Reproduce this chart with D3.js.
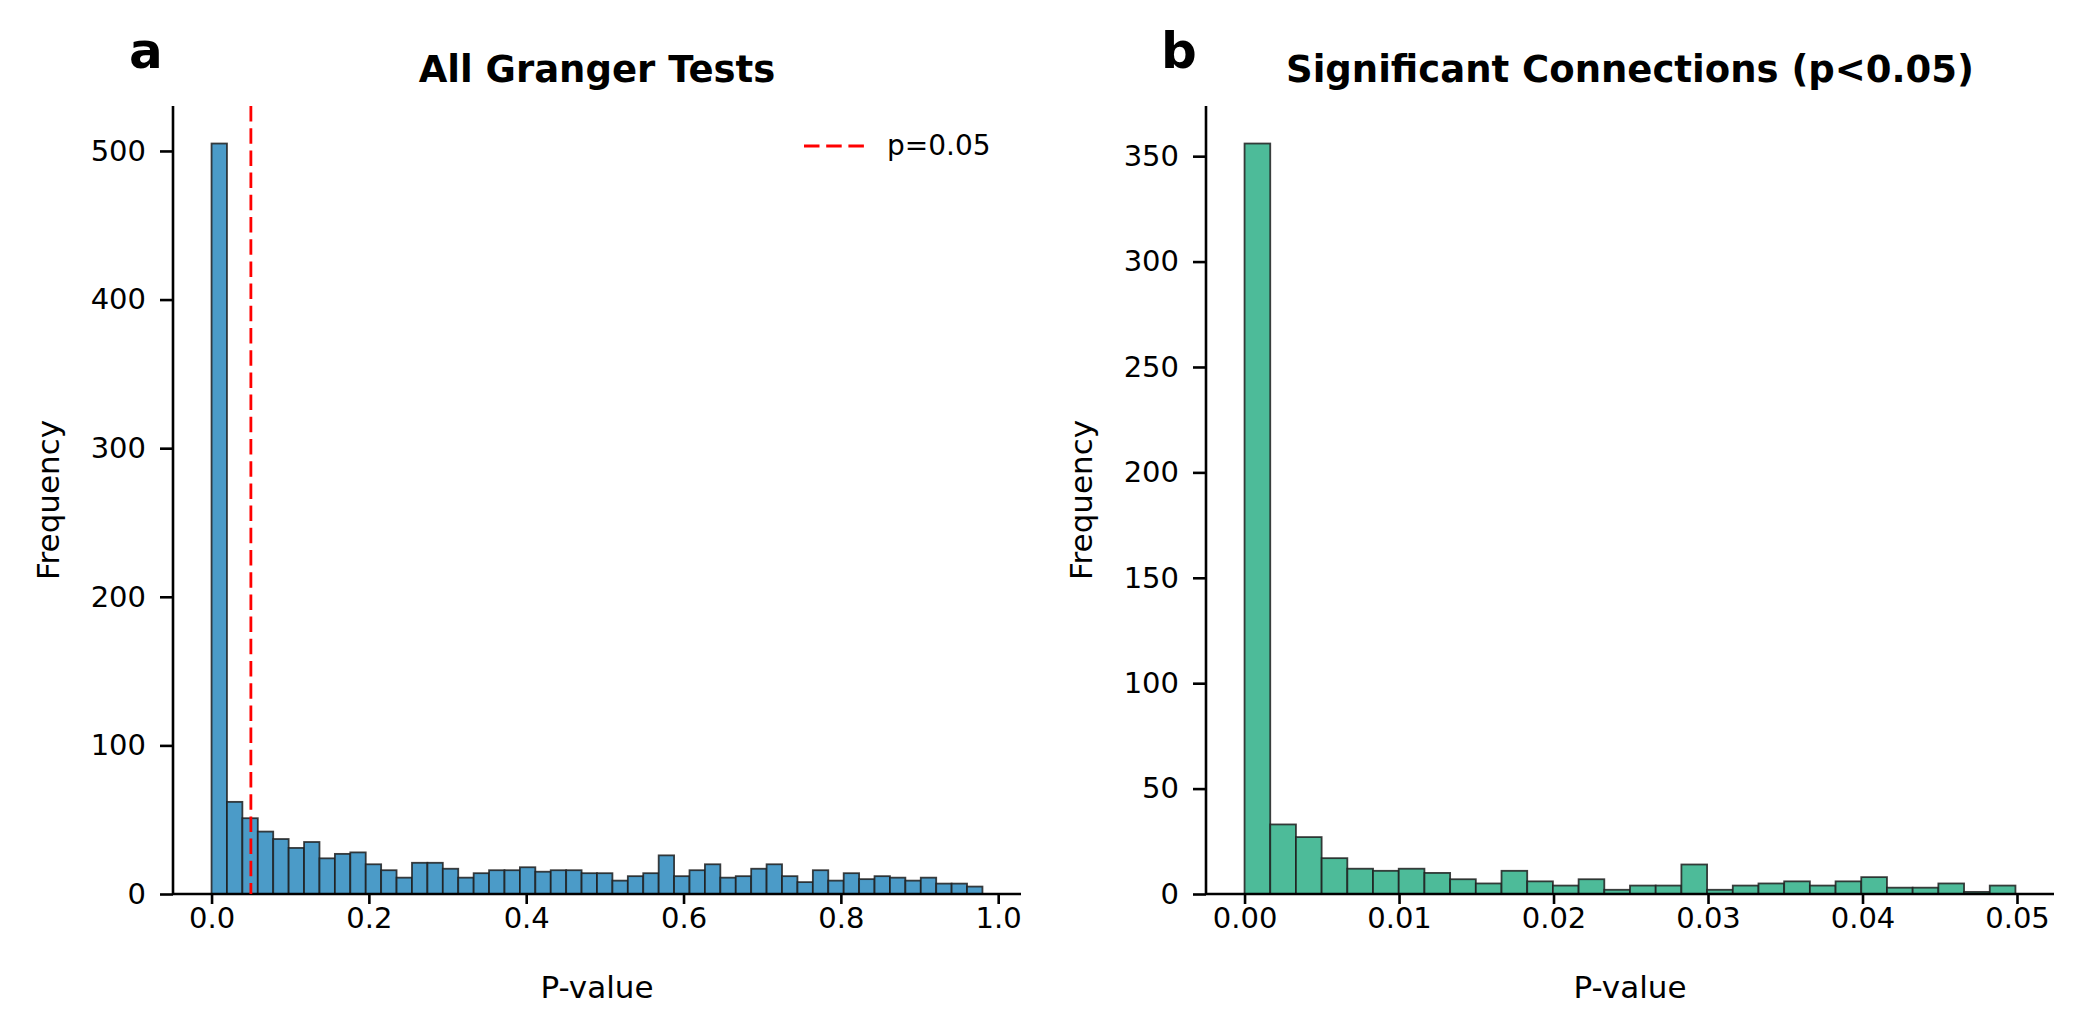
<!DOCTYPE html>
<html>
<head>
<meta charset="utf-8">
<script src="https://cdn.jsdelivr.net/npm/d3@7"></script>
<style>
  body { margin: 0; background: #fff; }
  svg text { font-family: "DejaVu Sans", sans-serif; fill: #000; }
</style>
</head>
<body>
<div id="container"></div>
<script>
// counts per bin
const allCounts = [505, 62, 51, 42, 37, 31, 35, 24, 27, 28, 20, 16, 11, 21, 21, 17, 11, 14, 16, 16,
  18, 15, 16, 16, 14, 14, 9, 12, 14, 26, 12, 16, 20, 11, 12, 17, 20, 12, 8, 16,
  9, 14, 10, 12, 11, 9, 11, 7, 7, 5];
const allRange = [0, 0.98];
const sigCounts = [356, 33, 27, 17, 12, 11, 12, 10, 7, 5, 11, 6, 4, 7, 2, 4, 4, 14, 2, 4,
  5, 6, 4, 6, 8, 3, 3, 5, 1, 4];
const sigRange = [0, 0.0499];

const allXTicks = [0, 0.2, 0.4, 0.6, 0.8, 1.0];
const allYTicks = [0, 100, 200, 300, 400, 500];
const sigXTicks = [0, 0.01, 0.02, 0.03, 0.04, 0.05];
const sigYTicks = [0, 50, 100, 150, 200, 250, 300, 350];
const threshold = 0.05;

const width = 2083, height = 1036;
const svg = d3.select("#container").append("svg")
  .attr("width", width).attr("height", height);

function panel(opts) {
  const { counts, range, xTicks, yTicks, x0, x1, fill, title, letter, letterX, xFmt } = opts;
  const top = 106, bottom = 894;
  const span = range[1] - range[0];
  const x = d3.scaleLinear()
    .domain([range[0] - 0.05 * span, range[1] + 0.05 * span])
    .range([x0, x1]);
  const ymax = d3.max(counts) * 1.05;
  const y = d3.scaleLinear().domain([0, ymax]).range([bottom, top]);
  const w = span / counts.length;

  const g = svg.append("g");

  g.selectAll("rect").data(counts).join("rect")
    .attr("x", (d, i) => x(range[0] + i * w))
    .attr("width", (d, i) => x(range[0] + (i + 1) * w) - x(range[0] + i * w))
    .attr("y", d => y(d))
    .attr("height", d => y(0) - y(d))
    .attr("fill", fill)
    .attr("stroke", "#1e1e1e")
    .attr("stroke-opacity", 0.85)
    .attr("stroke-width", 1.8);

  const xAxis = g.append("g")
    .attr("transform", `translate(0,${bottom})`)
    .call(d3.axisBottom(x).tickValues(xTicks).tickFormat(xFmt)
      .tickSize(10).tickPadding(3).tickSizeOuter(0));
  const yAxis = g.append("g")
    .attr("transform", `translate(${x0},0)`)
    .call(d3.axisLeft(y).tickValues(yTicks).tickFormat(d3.format("d"))
      .tickSize(13).tickPadding(14).tickSizeOuter(0));

  [xAxis, yAxis].forEach(a => {
    a.select(".domain").attr("stroke", "#000").attr("stroke-width", 2.6);
    a.selectAll(".tick line").attr("stroke", "#000").attr("stroke-width", 2.6);
    a.selectAll(".tick text").attr("font-size", 29)
      .attr("font-family", "DejaVu Sans");
  });
  // spines span the full axes box
  xAxis.select(".domain").attr("d", `M${x0},0H${x1}`);
  yAxis.select(".domain").attr("d", `M0,${bottom}V${top}`);

  g.append("text")
    .attr("x", (x0 + x1) / 2).attr("y", 998)
    .attr("text-anchor", "middle").attr("font-size", 31)
    .text("P-value");
  g.append("text")
    .attr("transform", `translate(${x0 - 114},${(top + bottom) / 2}) rotate(-90)`)
    .attr("text-anchor", "middle").attr("font-size", 31)
    .text("Frequency");
  g.append("text")
    .attr("x", (x0 + x1) / 2).attr("y", 82)
    .attr("text-anchor", "middle").attr("font-size", 37).attr("font-weight", "bold")
    .text(title);
  g.append("text")
    .attr("x", letterX).attr("y", 68)
    .attr("font-size", 50).attr("font-weight", "bold")
    .text(letter);

  return { g, x, y, top, bottom };
}

const a = panel({
  counts: allCounts, range: allRange, xTicks: allXTicks, yTicks: allYTicks,
  x0: 173, x1: 1021, fill: "#4b9bc8", title: "All Granger Tests",
  letter: "a", letterX: 129, xFmt: d3.format(".1f")
});

// threshold line
a.g.append("line")
  .attr("x1", a.x(threshold)).attr("x2", a.x(threshold))
  .attr("y1", a.top).attr("y2", a.bottom)
  .attr("stroke", "#ff0000").attr("stroke-width", 2.8)
  .attr("stroke-dasharray", "15.5,6.7");

// legend
a.g.append("line")
  .attr("x1", 804).attr("x2", 864).attr("y1", 146).attr("y2", 146)
  .attr("stroke", "#ff0000").attr("stroke-width", 2.8)
  .attr("stroke-dasharray", "15.5,6.7");
a.g.append("text")
  .attr("x", 887).attr("y", 155)
  .attr("font-size", 28)
  .text("p=0.05");

panel({
  counts: sigCounts, range: sigRange, xTicks: sigXTicks, yTicks: sigYTicks,
  x0: 1206, x1: 2054, fill: "#4dbb99", title: "Significant Connections (p<0.05)",
  letter: "b", letterX: 1161, xFmt: d3.format(".2f")
});
</script>
</body>
</html>
